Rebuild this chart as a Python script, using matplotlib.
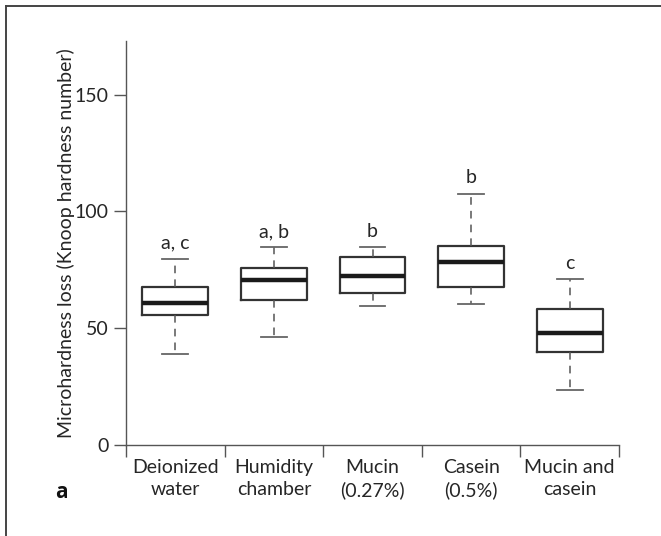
import matplotlib
matplotlib.use("Agg")
import matplotlib.pyplot as plt
from matplotlib.lines import Line2D

# ---- data ----
categories = ["Deionized\nwater", "Humidity\nchamber", "Mucin\n(0.27%)", "Casein\n(0.5%)", "Mucin and\ncasein"]
whisker_low = [38.9, 46.2, 59.5, 60.2, 23.4]
q1 = [55.8, 62.3, 64.9, 67.8, 39.8]
median = [60.8, 70.8, 72.2, 78.5, 48.1]
q3 = [67.7, 75.6, 80.4, 85.4, 58.2]
whisker_high = [79.7, 84.6, 84.6, 107.5, 70.9]
groups = ["a, c", "a, b", "b", "b", "c"]
yticks = [0, 50, 100, 150]
ylabel = "Microhardness loss (Knoop hardness number)"

plt.rcParams['font.family'] = ['Lato', 'DejaVu Sans']
FS = 14
TXT = "#262626"

fig = plt.figure(figsize=(6.61, 5.36), dpi=100)
ax = fig.add_axes([0.1906, 0.1698, 0.9365 - 0.1906, 0.9235 - 0.1698])

stats = []
for i in range(len(categories)):
    stats.append(dict(whislo=whisker_low[i], q1=q1[i], med=median[i],
                      q3=q3[i], whishi=whisker_high[i], fliers=[]))

pos = list(range(len(categories)))
ax.bxp(stats, positions=pos, widths=0.667, capwidths=0.26, showfliers=False,
       boxprops=dict(color="#333333", linewidth=1.6),
       medianprops=dict(color="#1a1a1a", linewidth=3.2, solid_capstyle='butt'),
       whiskerprops=dict(color="#555555", linewidth=1.1, linestyle=(0, (5, 4))),
       capprops=dict(color="#666666", linewidth=1.3))

for i, g in enumerate(groups):
    ax.text(pos[i], whisker_high[i] + 4.5, g, ha='center', va='baseline',
            fontsize=FS, color=TXT)

ax.set_xlim(-0.5, len(categories) - 0.5)
ax.set_ylim(0, 173)
ax.set_yticks(yticks)
ax.set_yticklabels([str(v) for v in yticks], fontsize=FS, color=TXT)
ax.set_xticks([p - 0.5 for p in pos] + [len(categories) - 0.5])
ax.set_xticklabels([])
ax.set_xticks(pos, minor=True)
ax.set_xticklabels(categories, minor=True, fontsize=FS, color=TXT, linespacing=1.35)
ax.tick_params(axis='x', which='minor', length=0, pad=10)
ax.tick_params(axis='both', which='major', length=8.5, width=1.0, color="#555555")
ax.tick_params(axis='y', pad=4)

for s in ['top', 'right']:
    ax.spines[s].set_visible(False)
for s in ['left', 'bottom']:
    ax.spines[s].set_color("#555555")
    ax.spines[s].set_linewidth(1.0)

ax.set_ylabel(ylabel, fontsize=FS, color=TXT)
ax.yaxis.set_label_coords(-0.103, 0.5)

fig.text(61 / 661, 1 - 493 / 536, "a", fontsize=15, fontweight='bold',
         family=['Open Sans', 'DejaVu Sans'],
         ha='center', va='center', color="#111111")

# figure frame (left and top edges)
fig.add_artist(Line2D([5.5 / 661, 5.5 / 661], [0, 1 - 5.5 / 536], transform=fig.transFigure,
                      color="#444444", linewidth=1.4))
fig.add_artist(Line2D([5.5 / 661, 1], [1 - 5.5 / 536, 1 - 5.5 / 536], transform=fig.transFigure,
                      color="#444444", linewidth=1.4))

fig.savefig("out.png", dpi=100)
